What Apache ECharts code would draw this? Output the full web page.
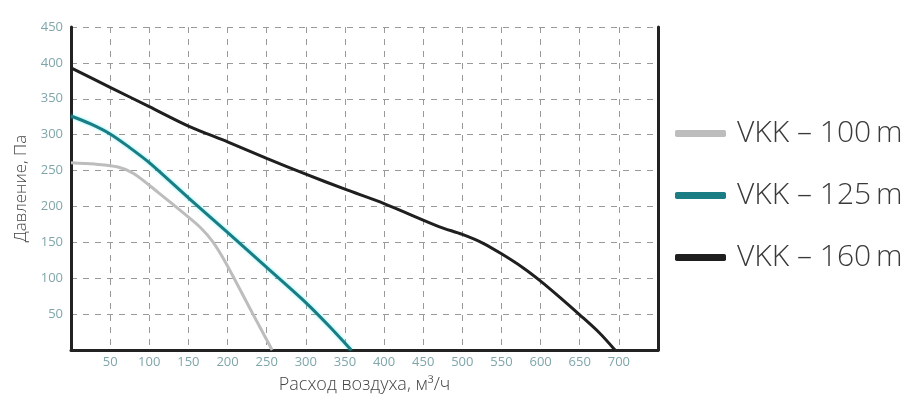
<!DOCTYPE html>
<html>
<head>
<meta charset="utf-8">
<script src="https://cdn.jsdelivr.net/npm/echarts@6/dist/echarts.min.js"></script>
<style>
html,body{margin:0;padding:0;background:#fff;}
#chart{width:916px;height:404px;}
</style>
</head>
<body>
<div id="chart"></div>
<script>
var seriesNames = ['VKK – 100\u2009m', 'VKK – 125\u2009m', 'VKK – 160\u2009m'];
var vkk100 = [[0,261],[30,259],[60,255],[80,246],[112,219],[147,188],[165,171],[181,151],[198,121],[232,51],[257,0]];
var vkk125 = [[0,326],[25,315],[50,301],[75,282],[100,261],[150,212],[200,164],[250,115],[300,66],[330,33],[358,0]];
var vkk160 = [[0,393],[50,366],[100,339],[150,312],[200,290],[250,267],[300,245],[350,224],[400,204],[470,172],[500,161],[526,149],[550,134],[577,115],[600,96],[625,73],[650,49],[675,24],[695,0]];
var xAxisName = 'Расход воздуха, м³/ч';
var yAxisName = 'Давление, Па';

var colors = ['#bdbdbd', '#1b7d84', '#1f1f1f'];
var tickColor = '#7fa6ab';
var font = '"Open Sans", "Noto Sans", sans-serif';

var chart = echarts.init(document.getElementById('chart'));
chart.setOption({
  animation: false,
  textStyle: {fontFamily: font},
  grid: {left: 71, top: 27, width: 587, height: 323, containLabel: false},
  legend: {
    orient: 'vertical',
    left: 670,
    top: 112,
    itemWidth: 51,
    itemHeight: 7,
    itemGap: 29,
    icon: 'roundRect',
    data: seriesNames,
    textStyle: {fontFamily: font, fontSize: 30, fontWeight: 300, color: '#3a3a3a', padding: [0,0,0,6], lineHeight: 33}
  },
  xAxis: {
    type: 'value', min: 0, max: 750, interval: 50,
    name: xAxisName, nameLocation: 'middle', nameGap: 26,
    nameTextStyle: {fontSize: 18, color: '#444', fontWeight: 300, fontFamily: font},
    axisLine: {show: true, lineStyle: {color: '#222', width: 3}},
    axisTick: {show: false},
    axisLabel: {color: tickColor, fontSize: 13, margin: 6, fontFamily: font,
      formatter: function(v){ return (v === 0 || v === 750) ? '' : String(v); }},
    splitLine: {show: true, lineStyle: {color: '#9a9a9a', width: 1, type: [6,6]}}
  },
  yAxis: [{
    type: 'value', min: 0, max: 450, interval: 50,
    name: yAxisName, nameLocation: 'middle', nameGap: 38, nameRotate: 90,
    nameTextStyle: {fontSize: 17, color: '#444', fontWeight: 300, fontFamily: font},
    axisLine: {show: true, lineStyle: {color: '#222', width: 3}},
    axisTick: {show: false},
    axisLabel: {color: tickColor, fontSize: 13, margin: 8, fontFamily: font,
      formatter: function(v){ return v === 0 ? '' : String(v); }},
    splitLine: {show: true, lineStyle: {color: '#9a9a9a', width: 1, type: [6,6]}}
  }, {
    type: 'value', min: 0, max: 450, interval: 50, position: 'right',
    axisLine: {show: true, onZero: false, lineStyle: {color: '#222', width: 3}},
    axisTick: {show: false}, axisLabel: {show: false}, splitLine: {show: false}
  }],
  series: [
    {name: seriesNames[0], type: 'line', data: vkk100, smooth: 0.3, showSymbol: false,
     lineStyle: {color: colors[0], width: 3}, itemStyle: {color: colors[0]}},
    {name: seriesNames[1], type: 'line', data: vkk125, smooth: 0.3, showSymbol: false,
     lineStyle: {color: colors[1], width: 3, shadowColor: 'rgba(0,230,240,0.55)', shadowBlur: 3}, itemStyle: {color: colors[1]}},
    {name: seriesNames[2], type: 'line', data: vkk160, smooth: 0.3, showSymbol: false,
     lineStyle: {color: colors[2], width: 3}, itemStyle: {color: colors[2]}}
  ]
});
</script>
</body>
</html>
